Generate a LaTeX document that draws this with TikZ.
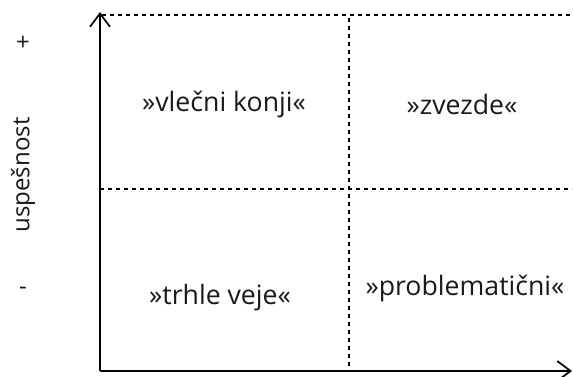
\documentclass[tikz,border=0pt]{standalone}
\usepackage{fontspec}
\setmainfont{Open Sans}
\usetikzlibrary{arrows.meta}
\begin{document}
\begin{tikzpicture}[x=0.75pt,y=-0.75pt,
  axis/.style={line width=1.6pt,-{Straight Barb[length=10pt,width=15pt,line width=1.3pt]}},
  grid/.style={line width=0.8pt,dash pattern=on 3pt off 3pt},
  lbl/.style={font=\fontsize{20}{24}\selectfont,inner sep=0pt,text=black!90},
  side/.style={font=\fontsize{18}{22}\selectfont,inner sep=0pt,text=black!90}]
\useasboundingbox (0,0) rectangle (573,376);
\coordinate (O) at (100,371);
\coordinate (Ytop) at (100,12);
\coordinate (Xend) at (572,371);
\coordinate (TL) at (102,15);
\coordinate (TR) at (572,15);
\coordinate (ML) at (100,189);
\coordinate (MR) at (572,189);
\coordinate (VT) at (349,18);
\coordinate (VB) at (349,371);
\draw[grid] (TL) -- (TR);
\draw[grid] (ML) -- (MR);
\draw[grid] (VT) -- (VB);
\draw[axis] (O) -- (Ytop);
\draw[axis] (O) -- (Xend);
\node[lbl] (q1) at (224,104) {»vlečni konji«};
\node[lbl] (q2) at (462,104) {»zvezde«};
\node[lbl] (q3) at (220,298) {»trhle veje«};
\node[lbl] (q4) at (465,288) {»problematični«};
\node[side] (plus) at (23,43) {+};
\node[side,rotate=90] (usp) at (23,175) {uspešnost};
\node[side] (minus) at (23,291) {-};
\end{tikzpicture}
\end{document}
